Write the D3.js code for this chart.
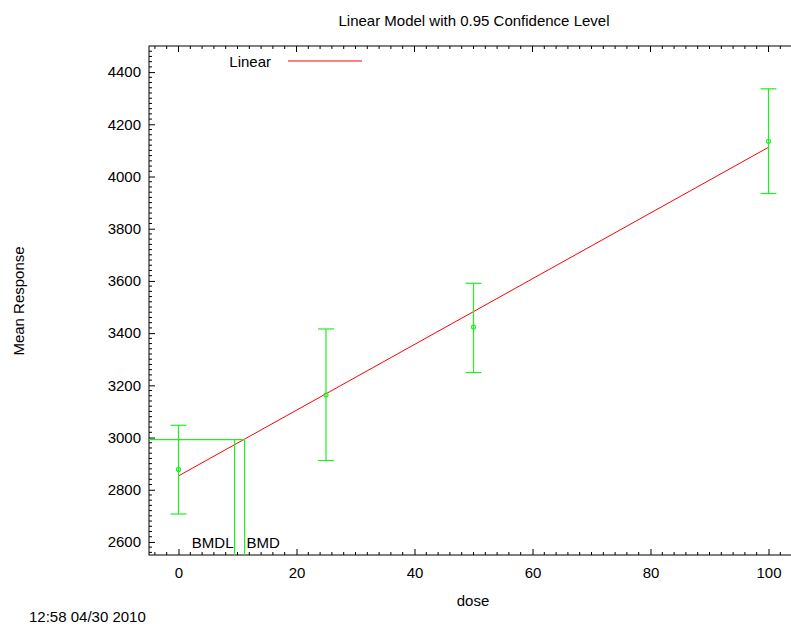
<!DOCTYPE html>
<html>
<head>
<meta charset="utf-8">
<script src="https://cdn.jsdelivr.net/npm/d3@7"></script>
<style>
  body { margin: 0; background: #fff; }
  text { font-family: "Liberation Sans", Arial, sans-serif; }
</style>
</head>
<body>
<div id="chart"></div>
<script>
// data
const doses = [0, 25, 50, 100];
const means = [2878, 3163, 3423, 4135];
const upper = [3047, 3416, 3591, 4336];
const lower = [2707, 2912, 3249, 3935];

const fitDose = [0, 100];
const fitResp = [2853, 4112];

const bmd = 11.2;
const bmdl = 9.5;
const bmdResp = 2992;

const xTicks = [0, 20, 40, 60, 80, 100];
const yTicks = [2600, 2800, 3000, 3200, 3400, 3600, 3800, 4000, 4200, 4400];

const width = 791;
const height = 626;
const fs = 15;

const svg = d3.select("#chart")
  .append("svg")
  .attr("width", width)
  .attr("height", height);

const x = d3.scaleLinear().domain([-5, 105]).range([149, 798]);
const y = d3.scaleLinear().domain([2550, 4500]).range([555, 46]);

const green = "#22ee22";
const red = "#ff0000";

// minor ticks
const xMinor = d3.range(-4, 105, 2).filter(d => d % 20 !== 0);
const yMinor = d3.range(2560, 4500, 20).filter(d => d % 200 !== 0);

const g = svg.append("g");

// frame
g.append("rect")
  .attr("x", x(-5)).attr("y", y(4500))
  .attr("width", x(105) - x(-5)).attr("height", y(2550) - y(4500))
  .attr("fill", "none").attr("stroke", "#000").attr("stroke-width", 1);

// axes with inward ticks
const xAxis = g.append("g")
  .attr("transform", `translate(0,${y(2550)})`)
  .call(d3.axisBottom(x).tickValues(xTicks).tickFormat(d3.format("d")).tickSize(-6).tickPadding(12));
const yAxis = g.append("g")
  .attr("transform", `translate(${x(-5)},0)`)
  .call(d3.axisLeft(y).tickValues(yTicks).tickFormat(d3.format("d")).tickSize(-6).tickPadding(8));
[xAxis, yAxis].forEach(a => {
  a.select(".domain").remove();
  a.selectAll("text").attr("font-size", fs).attr("fill", "#000")
    .attr("font-family", "Liberation Sans, Arial, sans-serif");
  a.selectAll("line").attr("stroke", "#000");
});

// mirror ticks on top + minor ticks
g.selectAll(".topMajor").data(xTicks).enter().append("line")
  .attr("x1", d => x(d)).attr("x2", d => x(d))
  .attr("y1", y(4500)).attr("y2", y(4500) + 6).attr("stroke", "#000");
g.selectAll(".xMinorB").data(xMinor).enter().append("line")
  .attr("x1", d => x(d)).attr("x2", d => x(d))
  .attr("y1", y(2550)).attr("y2", y(2550) - 3).attr("stroke", "#000");
g.selectAll(".xMinorT").data(xMinor).enter().append("line")
  .attr("x1", d => x(d)).attr("x2", d => x(d))
  .attr("y1", y(4500)).attr("y2", y(4500) + 3).attr("stroke", "#000");
g.selectAll(".yMinor").data(yMinor).enter().append("line")
  .attr("x1", x(-5)).attr("x2", x(-5) + 3)
  .attr("y1", d => y(d)).attr("y2", d => y(d)).attr("stroke", "#000");

// fitted line
const fit = fitDose.map((d, i) => [d, fitResp[i]]);
g.append("path")
  .datum(fit)
  .attr("d", d3.line().x(d => x(d[0])).y(d => y(d[1])))
  .attr("fill", "none").attr("stroke", red).attr("stroke-width", 1);

// error bars
const bars = g.selectAll(".bar").data(doses).enter().append("g");
bars.append("line")
  .attr("x1", d => x(d)).attr("x2", d => x(d))
  .attr("y1", (d, i) => y(upper[i])).attr("y2", (d, i) => y(lower[i]))
  .attr("stroke", green).attr("stroke-width", 1.2);
bars.append("line")
  .attr("x1", d => x(d) - 8).attr("x2", d => x(d) + 8)
  .attr("y1", (d, i) => y(upper[i])).attr("y2", (d, i) => y(upper[i]))
  .attr("stroke", green).attr("stroke-width", 1.2);
bars.append("line")
  .attr("x1", d => x(d) - 8).attr("x2", d => x(d) + 8)
  .attr("y1", (d, i) => y(lower[i])).attr("y2", (d, i) => y(lower[i]))
  .attr("stroke", green).attr("stroke-width", 1.2);
bars.append("circle")
  .attr("cx", d => x(d)).attr("cy", (d, i) => y(means[i]))
  .attr("r", 2).attr("fill", "none").attr("stroke", green).attr("stroke-width", 1.2);

// BMD / BMDL lines
g.append("line")
  .attr("x1", x(-5)).attr("x2", x(bmd))
  .attr("y1", y(bmdResp)).attr("y2", y(bmdResp))
  .attr("stroke", green).attr("stroke-width", 1.2);
[bmdl, bmd].forEach(v => {
  g.append("line")
    .attr("x1", x(v)).attr("x2", x(v))
    .attr("y1", y(bmdResp)).attr("y2", y(2550))
    .attr("stroke", green).attr("stroke-width", 1.2);
});
g.append("text").attr("x", x(bmdl) - 1).attr("y", 548)
  .attr("text-anchor", "end").attr("font-size", fs).text("BMDL");
g.append("text").attr("x", x(bmd) + 2).attr("y", 548)
  .attr("font-size", fs).text("BMD");

// legend
g.append("text").attr("x", 271).attr("y", 67)
  .attr("text-anchor", "end").attr("font-size", fs).text("Linear");
g.append("line").attr("x1", 288).attr("x2", 362).attr("y1", 61).attr("y2", 61)
  .attr("stroke", red).attr("stroke-width", 1);

// titles
svg.append("text").attr("x", 474).attr("y", 26)
  .attr("text-anchor", "middle").attr("font-size", fs)
  .text("Linear Model with 0.95 Confidence Level");
svg.append("text").attr("x", 473).attr("y", 606)
  .attr("text-anchor", "middle").attr("font-size", fs).text("dose");
svg.append("text")
  .attr("transform", "translate(24,301) rotate(-90)")
  .attr("text-anchor", "middle").attr("font-size", fs).text("Mean Response");
svg.append("text").attr("x", 29).attr("y", 622)
  .attr("font-size", fs).text("12:58 04/30 2010");
</script>
</body>
</html>
